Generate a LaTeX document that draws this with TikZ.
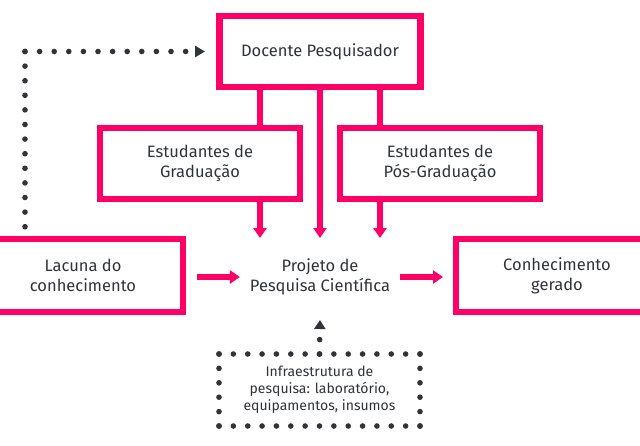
\documentclass[tikz,border=0pt]{standalone}
\usepackage{fontspec}
\setmainfont{Fira Sans}
\usetikzlibrary{arrows.meta}
\definecolor{pk}{RGB}{255,0,102}
\definecolor{tx}{RGB}{48,51,56}
\begin{document}
\begin{tikzpicture}[x=1pt,y=-1pt,
  txt/.style={text=tx, align=center, font=\fontsize{16.5}{20}\selectfont},
  box/.style={txt, draw=pk, line width=6.5pt, outer sep=0pt, inner sep=0pt},
  link/.style={draw=pk, line width=6.5pt},
  parrow/.style={draw=pk, line width=6.5pt, -{Triangle[width=13pt,length=10pt]}},
  dotline/.style={draw=tx, line width=5.6pt, line cap=round, dash pattern=on 0pt off #1},
]
\useasboundingbox (0,0) rectangle (640,445);
\clip (0,0) rectangle (640,445);
\node[box, minimum width=201pt, minimum height=71pt] (doc) at (320,51.5) {Docente Pesquisador};
\node[box, minimum width=200pt, minimum height=71pt] (grad) at (200,163.5) {Estudantes de\\Graduação};
\node[box, minimum width=200pt, minimum height=71pt] (pos) at (440,163.5) {Estudantes de\\Pós-Graduação};
\node[box, minimum width=200pt, minimum height=73pt] (lac) at (83,275.5) {Lacuna do\\conhecimento};
\node[box, minimum width=202pt, minimum height=73pt] (con) at (557,275.5) {Conhecimento\\gerado};
\node[txt, inner xsep=10pt, inner ysep=0pt, outer sep=0pt, minimum height=78pt] (proj) at (320,277) {Projeto de\\Pesquisa Científica};
\node[text=tx, align=center, font=\fontsize{14}{17}\selectfont, minimum width=201pt, minimum height=72pt, inner sep=0pt, outer sep=0pt] (inf) at (319.5,390) {Infraestrutura de\\pesquisa: laboratório,\\equipamentos, insumos};
\coordinate (xl) at (260,0);
\coordinate (xr) at (380,0);
\coordinate (xd) at (25,0);
\coordinate (dc) at (doc.west -| xd);
% pink connectors
\draw[link] (doc.south -| xl) -- (grad.north -| xl);
\draw[link] (doc.south -| xr) -- (pos.north -| xr);
\draw[parrow] (grad.south -| xl) -- (proj.north -| xl);
\draw[parrow] (pos.south -| xr) -- (proj.north -| xr);
\draw[parrow] (doc.south) -- (proj.north);
\draw[parrow, shorten <=14pt] (proj.west -| lac.east) -- (proj.west);
\draw[parrow, shorten >=13pt] (proj.east) -- (proj.east -| con.west);
% dotted connectors
\draw[dotline=14.6pt, shorten >=5pt] (dc) -- (lac.north -| xd);
\draw[dotline=14.6pt, -{Triangle[width=11pt,length=10pt]}, shorten >=14.5pt] (dc) -- (doc.west);
\draw[dotline=14.4pt, -{Triangle[width=11pt,length=9pt]}, shorten >=4pt] (inf.north) -- (proj.south);
% dotted box
\draw[dotline=14.357pt] (inf.north west) -- (inf.north east);
\draw[dotline=14.4pt] (inf.north east) -- (inf.south east);
\draw[dotline=14.357pt] (inf.south east) -- (inf.south west);
\draw[dotline=14.4pt] (inf.south west) -- (inf.north west);
\end{tikzpicture}
\end{document}
